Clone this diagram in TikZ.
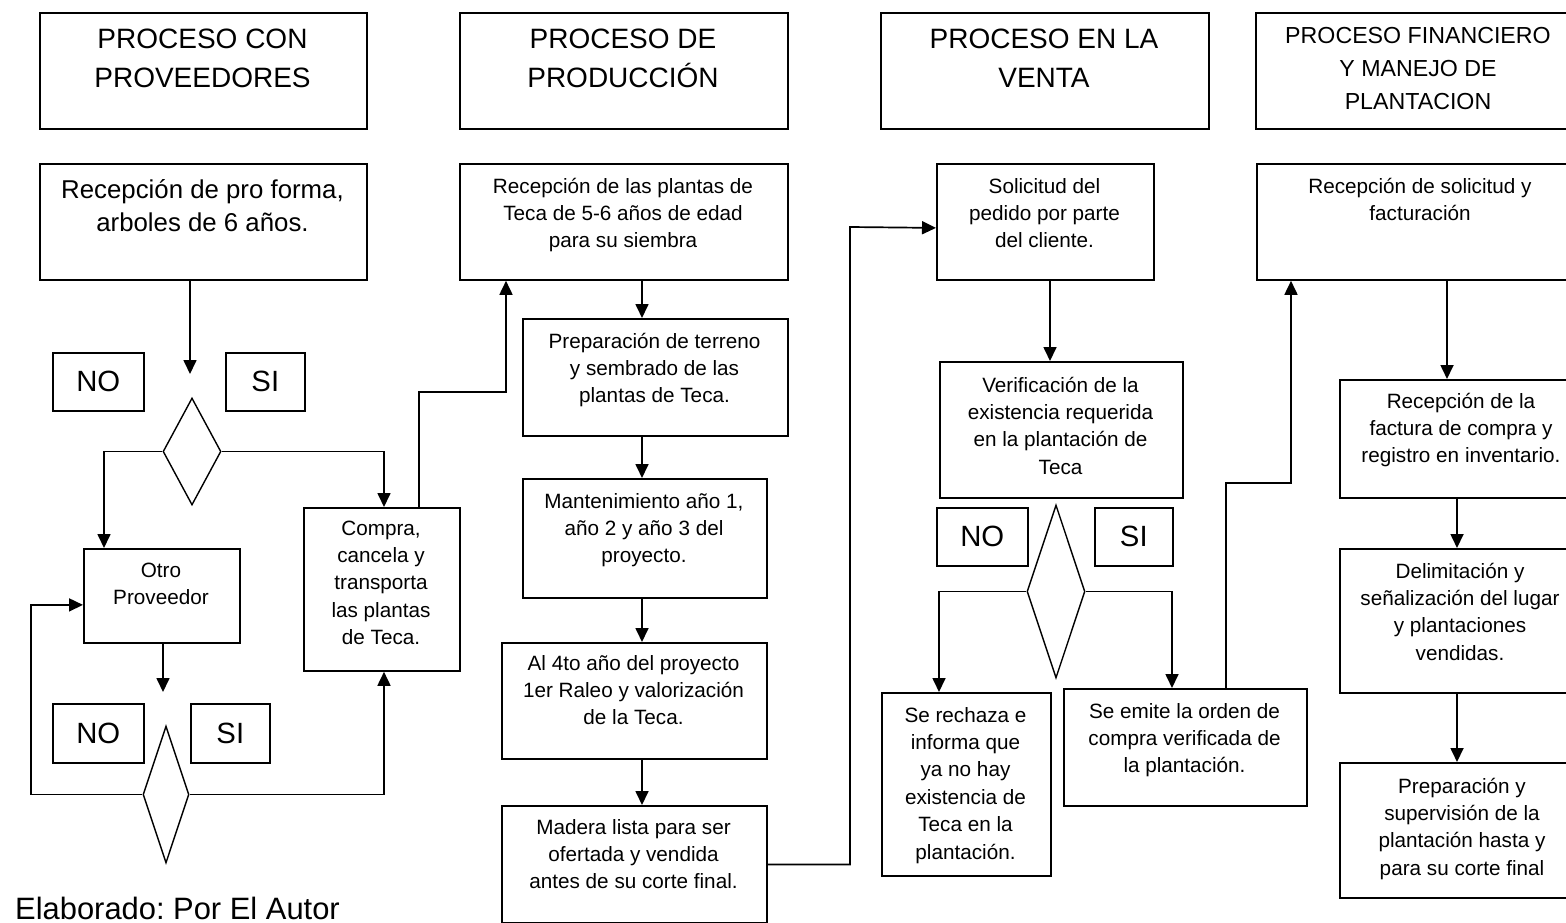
\documentclass[tikz,border=0pt]{standalone}
\usepackage{fontspec}
\setmainfont{Liberation Sans}
\usetikzlibrary{arrows.meta,shapes.geometric}
\frenchspacing
% font sizes used in the chart
\newcommand\FtHead{\fontsize{28pt}{39pt}\selectfont}
\newcommand\FtHfin{\fontsize{23.2pt}{33pt}\selectfont}
\newcommand\FtBig{\fontsize{25.8pt}{33.5pt}\selectfont}
\newcommand\FtBody{\fontsize{20.7pt}{27.4pt}\selectfont}
\newcommand\FtYN{\fontsize{29.3pt}{35pt}\selectfont}
\newcommand\FtNote{\fontsize{30.9pt}{37pt}\selectfont}
\begin{document}
\begin{tikzpicture}[x=1pt,y=-1pt,
  box/.style={draw, line width=1.8pt, inner sep=0pt, anchor=north west},
  tx/.style={inner sep=0pt, align=center, anchor=north, font=\FtBody},
  yn/.style={draw, line width=1.6pt, inner sep=0pt, anchor=north west, font=\FtYN},
  dia/.style={draw, diamond, line width=1.4pt, inner sep=0pt},
  arr/.style={-{Triangle[length=14pt,width=13pt]}, line width=1.7pt}]
\useasboundingbox (0,0) rectangle (1566,923);

% ---- column headers
\node[box, minimum width=327pt, minimum height=116pt] (h1) at (39,12) {};
\node[tx, font=\FtHead] (h1t) at (202.5,20.7) {\strut PROCESO CON\\PROVEEDORES};
\node[box, minimum width=328pt, minimum height=116pt] (h2) at (459,12) {};
\node[tx, font=\FtHead] (h2t) at (623,20.7) {\strut PROCESO DE\\PRODUCCIÓN};
\node[box, minimum width=328pt, minimum height=116pt] (h3) at (880,12) {};
\node[tx, font=\FtHead] (h3t) at (1044,20.7) {\strut PROCESO EN LA\\VENTA};
\node[box, minimum width=320pt, minimum height=116pt] (h4) at (1255,12) {};
\node[tx, font=\FtHfin] (h4t) at (1418,19.9) {\strut PROCESO FINANCIERO\\Y MANEJO DE\\PLANTACION};

% ---- first process row
\node[box, minimum width=327pt, minimum height=116pt] (pf) at (39,163) {};
\node[tx, font=\FtBig] (pft) at (202.5,174.5) {\strut Recepción de pro forma,\\arboles de 6 años.};
\node[box, minimum width=328pt, minimum height=116pt] (rp) at (459,163) {};
\node[tx] (rpt) at (623,173.8) {\strut Recepción de las plantas de\\Teca de 5-6 años de edad\\para su siembra};
\node[box, minimum width=217pt, minimum height=116pt] (sol) at (936,163) {};
\node[tx] (solt) at (1044.5,173.8) {\strut Solicitud del\\pedido por parte\\del cliente.};
\node[box, minimum width=319pt, minimum height=116pt] (rs) at (1256,163) {};
\node[tx] (rst) at (1420,173.8) {\strut Recepción de solicitud y\\facturación};

% ---- suppliers column
\node[yn, minimum width=91pt, minimum height=58pt] (no1) at (52,352) {NO};
\node[yn, minimum width=79pt, minimum height=58pt] (si1) at (225,352) {SI};
\node[dia, minimum width=58pt, minimum height=107pt] (d1) at (192,451.5) {};
\node[box, minimum width=156pt, minimum height=94pt] (ot) at (83,548) {};
\node[tx] (ott) at (161,557.8) {\strut Otro\\Proveedor};
\node[box, minimum width=156pt, minimum height=163pt] (cp) at (303,507) {};
\node[tx] (cpt) at (381,515.8) {\strut Compra,\\cancela y\\transporta\\las plantas\\de Teca.};
\node[yn, minimum width=91pt, minimum height=59pt] (no2) at (52,703) {NO};
\node[yn, minimum width=79pt, minimum height=59pt] (si2) at (190,703) {SI};
\node[dia, minimum width=46pt, minimum height=137pt] (d2) at (166,794.5) {};
\node[inner sep=0pt, anchor=base west, font=\FtNote] (note) at (15,919) {Elaborado: Por El Autor};

% ---- production column
\node[box, minimum width=265pt, minimum height=117pt] (pr) at (522,318) {};
\node[tx] (prt) at (654.5,328.8) {\strut Preparación de terreno\\y sembrado de las\\plantas de Teca.};
\node[box, minimum width=244pt, minimum height=119pt] (mt) at (522,478) {};
\node[tx] (mtt) at (644,488.8) {\strut Mantenimiento año 1,\\año 2 y año 3 del\\proyecto.};
\node[box, minimum width=265pt, minimum height=116pt] (al) at (501,642) {};
\node[tx] (alt) at (633.5,650.8) {\strut Al 4to año del proyecto\\1er Raleo y valorización\\de la Teca.};
\node[box, minimum width=265pt, minimum height=117pt] (md) at (501,805) {};
\node[tx] (mdt) at (633.5,814.8) {\strut Madera lista para ser\\ofertada y vendida\\antes de su corte final.};

% ---- sales column
\node[box, minimum width=243pt, minimum height=136pt] (ver) at (939,361) {};
\node[tx] (vert) at (1060.5,372.8) {\strut Verificación de la\\existencia requerida\\en la plantación de\\Teca};
\node[yn, minimum width=91pt, minimum height=58pt] (no3) at (936,507) {NO};
\node[yn, minimum width=78pt, minimum height=58pt] (si3) at (1094,507) {SI};
\node[dia, minimum width=58pt, minimum height=173pt] (d3) at (1056,591.5) {};
\node[box, minimum width=169pt, minimum height=183pt] (sr) at (881,692) {};
\node[tx] (srt) at (965.5,702.8) {\strut Se rechaza e\\informa que\\ya no hay\\existencia de\\Teca en la\\plantación.};
\node[box, minimum width=243pt, minimum height=117pt] (se) at (1063,688) {};
\node[tx] (set) at (1184.5,698.8) {\strut Se emite la orden de\\compra verificada de\\la plantación.};

% ---- finance column
\node[box, minimum width=236pt, minimum height=118pt] (rf) at (1339,379) {};
\node[tx] (rft) at (1461,388.8) {\strut Recepción de la\\factura de compra y\\registro en inventario.};
\node[box, minimum width=236pt, minimum height=144pt] (dl) at (1339,548) {};
\node[tx] (dlt) at (1460,558.8) {\strut Delimitación y\\señalización del lugar\\y plantaciones\\vendidas.};
\node[box, minimum width=236pt, minimum height=135pt] (pp) at (1339,762) {};
\node[tx] (ppt) at (1462,773.8) {\strut Preparación y\\supervisión de la\\plantación hasta y\\para su corte final};

% ---- connectors, suppliers
\coordinate (a1) at (190,374);
\coordinate (a2) at (163,692);
\coordinate (k1) at (506,392);
\coordinate (k2) at (31,604);
\draw[arr] ([xshift=151pt]pf.south west) -- (a1);
\draw[arr] (d1.west) -| ([xshift=21pt]ot.north west);
\draw[arr] (d1.east) -| ([xshift=81pt]cp.north west);
\draw[arr] ([xshift=116pt]cp.north west) |- (k1) -- ([xshift=47pt]rp.south west);
\draw[arr] ([xshift=80pt]ot.south west) -- (a2);
\draw[arr] (d2.west) -| (k2) |- ([yshift=-9pt]ot.west);
\draw[arr] (d2.east) -| ([xshift=81pt]cp.south west);

% ---- connectors, production
\coordinate (k3) at (850,227);
\draw[arr] ([xshift=183pt]rp.south west) -- ([xshift=120pt]pr.north west);
\draw[arr] ([xshift=120pt]pr.south west) -- ([xshift=120pt]mt.north west);
\draw[arr] ([xshift=120pt]mt.south west) -- ([xshift=141pt]al.north west);
\draw[arr] ([xshift=141pt]al.south west) -- ([xshift=141pt]md.north west);
\draw[arr] (md.east) -| (k3) -- ([yshift=-6pt]sol.west);

% ---- connectors, sales
\coordinate (k4) at (1291,483);
\draw[arr] ([xshift=114pt]sol.south west) -- ([xshift=111pt]ver.north west);
\draw[arr] (d3.west) -| ([xshift=58pt]sr.north west);
\draw[arr] (d3.east) -| ([xshift=109pt]se.north west);
\draw[arr] ([xshift=163pt]se.north west) |- (k4) -- ([xshift=35pt]rs.south west);

% ---- connectors, finance
\draw[arr] ([xshift=191pt]rs.south west) -- ([xshift=108pt]rf.north west);
\draw[arr] ([xshift=118pt]rf.south west) -- ([xshift=118pt]dl.north west);
\draw[arr] ([xshift=118pt]dl.south west) -- ([xshift=118pt]pp.north west);
\end{tikzpicture}
\end{document}
